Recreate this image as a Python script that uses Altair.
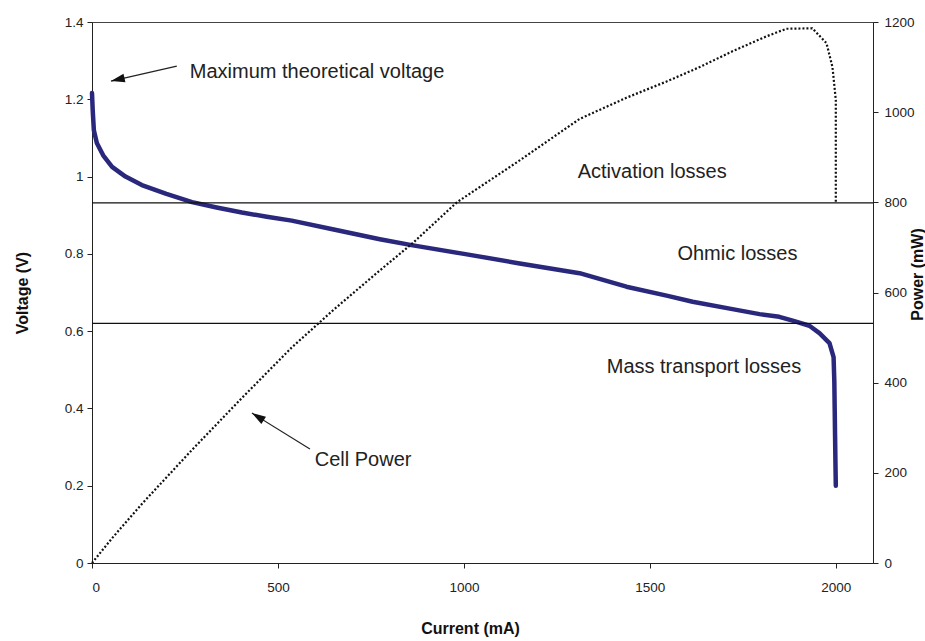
import altair as alt
import pandas as pd

# Polarisation curve: cell current (mA) against cell voltage (V)
current_ma = [0, 2, 5, 13, 30, 54, 90, 134, 200, 269,
              335, 403, 470, 537, 650, 774, 863, 1000, 1150, 1311, 1437,
              1545, 1615, 1722, 1795, 1848, 1884, 1929, 1956, 1983, 1994,
              1996, 1997, 1998, 1999, 2000]
voltage_v = [1.216, 1.17, 1.12, 1.087, 1.055, 1.025, 1.0, 0.978, 0.955, 0.934,
             0.92, 0.907, 0.896, 0.886, 0.863, 0.838, 0.822, 0.80, 0.775, 0.75, 0.715,
             0.692, 0.676, 0.657, 0.644, 0.637, 0.627, 0.614, 0.595, 0.569, 0.533,
             0.47, 0.40, 0.33, 0.26, 0.20]

# Cell power curve: current (mA) against power (mW)
power_current_ma = [0, 54, 134, 269, 403, 537, 650, 774, 863, 981,
                    1150, 1311, 1437, 1545, 1634, 1722, 1813, 1867, 1937, 1975,
                    1991, 2000, 2000]
power_mw = [0, 55, 131, 251, 366, 478, 562, 649, 710, 800,
            893, 985, 1032, 1068, 1100, 1135, 1168, 1185, 1186, 1153,
            1100, 1027, 800]

# Voltage levels separating the loss regions
loss_bounds_v = [0.932, 0.62]

# Region labels and call-outs (anchored in current / voltage units)
label_text = ["Maximum theoretical voltage", "Activation losses", "Ohmic losses",
              "Mass transport losses", "Cell Power"]
label_current = [263, 1306, 1574, 1384, 599]
label_voltage = [1.271, 1.012, 0.80, 0.507, 0.267]

arrow_tail_current = [228, 586]
arrow_tail_voltage = [1.286, 0.295]
arrow_tip_current = [51, 430]
arrow_tip_voltage = [1.247, 0.388]
arrow_angle = [257, 302]

x_ticks = [0, 500, 1000, 1500, 2000]
v_ticks = [0, 0.2, 0.4, 0.6, 0.8, 1.0, 1.2, 1.4]
p_ticks = [0, 200, 400, 600, 800, 1000, 1200]

W, H = 781, 541
FONT = "Liberation Sans, Arial, sans-serif"
NAVY = "#2a287c"

volt_df = pd.DataFrame({"current": current_ma, "voltage": voltage_v,
                        "seq": list(range(len(current_ma)))})
power_df = pd.DataFrame({"current": power_current_ma, "power": power_mw,
                         "seq": list(range(len(power_current_ma)))})
bounds_df = pd.DataFrame({"v": loss_bounds_v})
labels_df = pd.DataFrame({"label": label_text, "current": label_current,
                          "voltage": label_voltage})
arrows_df = pd.DataFrame({"x0": arrow_tail_current, "y0": arrow_tail_voltage,
                          "x1": arrow_tip_current, "y1": arrow_tip_voltage,
                          "angle": arrow_angle})

x_scale = alt.Scale(domain=[0, 2100], nice=False, zero=False)
v_scale = alt.Scale(domain=[0, 1.4], nice=False, zero=False)
p_scale = alt.Scale(domain=[0, 1200], nice=False, zero=False)

x_axis = alt.Axis(values=x_ticks, title="Current (mA)", format="d",
                  tickSize=5, labelPadding=12, grid=False,
                  titleX=378, titleY=65, titleAlign="center",
                  titleBaseline="middle")
v_axis = alt.Axis(values=v_ticks, format="~g", title="Voltage (V)",
                  tickSize=5, labelPadding=4, grid=False,
                  titleAngle=270, titleX=-70, titleY=H / 2,
                  titleAlign="center", titleBaseline="middle")
p_axis = alt.Axis(values=p_ticks, format="d", title="Power (mW)",
                  orient="right", tickSize=5, labelPadding=6, grid=False,
                  titleAngle=270, titleX=44, titleY=252,
                  titleAlign="center", titleBaseline="middle")


def xq(field):
    return alt.X(field, type="quantitative", scale=x_scale, axis=x_axis)


def vq(field):
    return alt.Y(field, type="quantitative", scale=v_scale, axis=v_axis)


voltage_line = alt.Chart(volt_df).mark_line(
    color=NAVY, strokeWidth=4.5, strokeJoin="round", strokeCap="round"
).encode(
    x=xq("current"),
    y=vq("voltage"),
    order="seq:Q",
)

rules = alt.Chart(bounds_df).mark_rule(color="#111111", strokeWidth=1.2).encode(
    y=vq("v")
)

labels = alt.Chart(labels_df).mark_text(
    align="left", baseline="middle", font=FONT, fontSize=20, color="#222222"
).encode(
    x=xq("current"),
    y=vq("voltage"),
    text="label:N",
)

arrow_shafts = alt.Chart(arrows_df).mark_rule(color="#222222", strokeWidth=1.2).encode(
    x=xq("x0"),
    y=vq("y0"),
    x2="x1:Q",
    y2="y1:Q",
)

arrow_heads = alt.Chart(arrows_df).mark_point(
    shape="M0,0L0.5,1.6L-0.5,1.6Z", filled=True, color="#111111",
    size=300, opacity=1, strokeWidth=0
).encode(
    x=xq("x1"),
    y=vq("y1"),
    angle=alt.Angle("angle:Q", scale=None),
)

voltage_group = alt.layer(voltage_line, rules, labels, arrow_shafts, arrow_heads)

power_line = alt.Chart(power_df).mark_line(
    color="#111111", strokeWidth=2.2, strokeDash=[2, 2]
).encode(
    x=xq("current"),
    y=alt.Y("power:Q", scale=p_scale, axis=p_axis),
    order="seq:Q",
)

chart = alt.layer(voltage_group, power_line).resolve_scale(
    y="independent"
).properties(
    width=W,
    height=H,
    padding={"left": 92, "top": 22, "right": 52, "bottom": 78},
    autosize=alt.AutoSizeParams(type="none"),
    background="white",
).configure_view(
    stroke="#444444", strokeWidth=1
).configure_axis(
    domainColor="#222222", tickColor="#222222", labelColor="#222222",
    labelFont=FONT, labelFontSize=13.5, titleFont=FONT, titleFontSize=16,
    titleFontWeight="bold", titleColor="#111111",
)

chart.save("out.html", embed_options={"renderer": "svg", "actions": False})
